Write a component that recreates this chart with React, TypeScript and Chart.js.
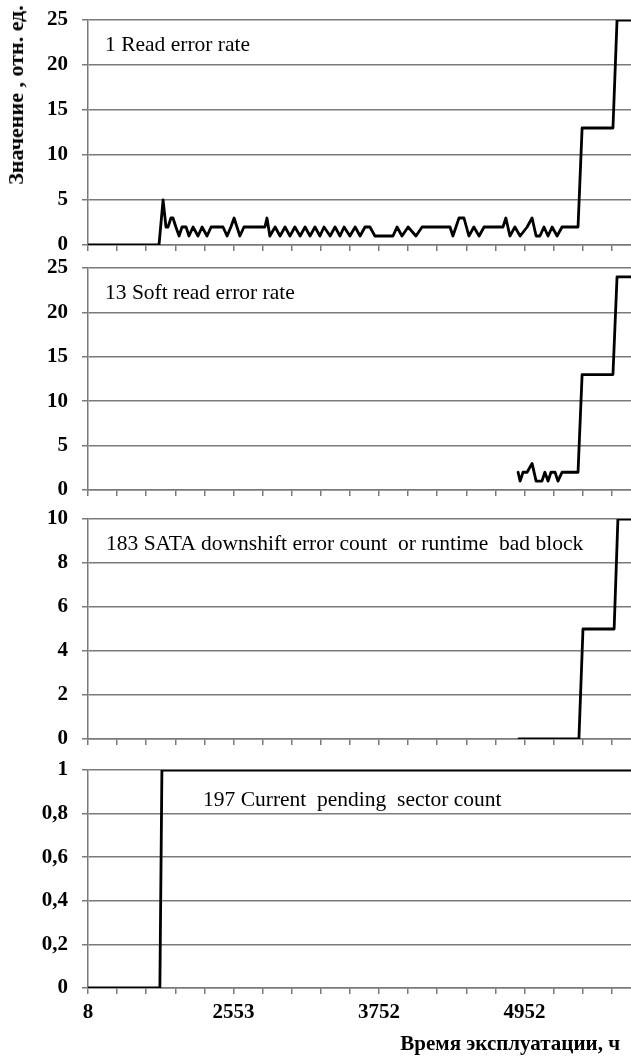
import React, { useEffect, useRef } from "react";
import { Chart, registerables } from "chart.js";

Chart.register(...registerables);

// x positions are expressed in category-tick units (one tick = one axis division)
const xTickLabels = ["8", "", "", "", "", "2553", "", "", "", "", "3752", "", "", "", "", "4952", "", "", ""];
const X_MAX = 18.66;

// 1 Read error rate
const readErrX = [0, 2.44, 2.58, 2.68, 2.75, 2.85, 2.92, 3.02, 3.13, 3.23, 3.37, 3.47, 3.61, 3.78, 3.92, 4.09, 4.23, 4.64, 4.78, 4.91, 5.02, 5.12, 5.22, 5.36, 6.08, 6.15, 6.25, 6.43, 6.6, 6.77, 6.94, 7.11, 7.29, 7.46, 7.63, 7.8, 7.97, 8.11, 8.32, 8.49, 8.66, 8.8, 9.0, 9.18, 9.35, 9.52, 9.69, 9.86, 10.48, 10.62, 10.79, 11.0, 11.27, 11.48, 12.44, 12.54, 12.75, 12.92, 13.09, 13.26, 13.44, 13.61, 14.26, 14.36, 14.5, 14.67, 14.85, 15.09, 15.26, 15.4, 15.53, 15.67, 15.81, 15.95, 16.12, 16.29, 16.84, 16.98, 18.04, 18.18, 18.66];
const readErrY = [0, 0, 5, 2, 2, 3, 3, 2, 1, 2, 2, 1, 2, 1, 2, 1, 2, 2, 1, 2, 3, 2, 1, 2, 2, 3, 1, 2, 1, 2, 1, 2, 1, 2, 1, 2, 1, 2, 1, 2, 1, 2, 1, 2, 1, 2, 2, 1, 1, 2, 1, 2, 1, 2, 2, 1, 3, 3, 1, 2, 1, 2, 2, 3, 1, 2, 1, 2, 3, 1, 1, 2, 1, 2, 1, 2, 2, 13, 13, 25, 25];

// 13 Soft read error rate
const softX = [14.78, 14.85, 14.95, 15.09, 15.26, 15.4, 15.6, 15.7, 15.81, 15.91, 16.05, 16.15, 16.29, 16.84, 16.98, 18.04, 18.18, 18.66];
const softY = [2, 1, 2, 2, 3, 1, 1, 2, 1, 2, 2, 1, 2, 2, 13, 13, 24, 24];

// 183 SATA downshift error count
const sataX = [14.81, 16.87, 17.01, 18.08, 18.21, 18.66];
const sataY = [0, 0, 5, 5, 10, 10];

// 197 Current pending sector count
const pendX = [0, 2.47, 2.54, 18.66];
const pendY = [0, 0, 1, 1];

const panelTitles = [
  "1 Read error rate",
  "13 Soft read error rate",
  "183 SATA downshift error count  or runtime  bad block",
  "197 Current  pending  sector count",
];

const yTitle = "Значение , отн. ед.";
const xTitle = "Время эксплуатации, ч";

const FONT = "'Liberation Serif', 'Times New Roman', serif";
const GRID = "#7a7a7a";

const panelLabelPlugin = {
  id: "panelLabel",
  afterDraw(chart: any, _args: any, opts: any) {
    const { ctx, chartArea } = chart;
    ctx.save();
    ctx.font = `21.5px ${FONT}`;
    ctx.fillStyle = "#000";
    ctx.textAlign = "left";
    ctx.textBaseline = "middle";
    ctx.fillText(opts.text, chartArea.left + opts.dx, chartArea.top + opts.dy);
    ctx.restore();
  },
};

type PanelProps = {
  top: number;
  height: number;
  padTop: number;
  xAxisHeight: number;
  yMax: number;
  yStep: number;
  xs: number[];
  ys: number[];
  title: string;
  dx: number;
  dy: number;
  showXLabels: boolean;
  decimal: boolean;
};

function Panel(p: PanelProps) {
  const ref = useRef<HTMLCanvasElement | null>(null);
  useEffect(() => {
    if (!ref.current) return;
    const chart = new Chart(ref.current, {
      type: "line",
      data: {
        datasets: [
          {
            data: p.xs.map((x, i) => ({ x, y: p.ys[i] })),
            borderColor: "#000",
            borderWidth: 2.8,
            borderJoinStyle: "round",
            borderCapStyle: "round",
            pointRadius: 0,
            tension: 0,
            fill: false,
          },
        ],
      },
      options: {
        animation: false,
        responsive: false,
        devicePixelRatio: 1,
        layout: { padding: { top: p.padTop, left: 0, right: 0, bottom: 0 } },
        plugins: {
          legend: { display: false },
          tooltip: { enabled: false },
          panelLabel: { text: p.title, dx: p.dx, dy: p.dy },
        } as any,
        scales: {
          x: {
            type: "linear",
            min: 0,
            max: X_MAX,
            afterBuildTicks: (s: any) => {
              s.ticks = xTickLabels.map((_, i) => ({ value: i }));
            },
            afterFit: (s: any) => {
              s.height = p.xAxisHeight;
              s.paddingLeft = 0;
              s.paddingRight = 0;
              s.paddingTop = 0;
              s.paddingBottom = 0;
            },
            ticks: {
              autoSkip: false,
              maxRotation: 0,
              padding: 6,
              color: "#000",
              font: { family: FONT, size: 21, weight: "bold" },
              callback: (v: any) => (p.showXLabels ? xTickLabels[Math.round(Number(v))] ?? "" : ""),
            },
            grid: {
              drawOnChartArea: false,
              drawTicks: true,
              tickLength: 6,
              color: GRID,
              lineWidth: 1.5,
            },
            border: { color: GRID, width: 1.5 },
          },
          y: {
            min: 0,
            max: p.yMax,
            afterFit: (s: any) => {
              s.width = 88;
              s.paddingTop = 0;
              s.paddingBottom = 0;
              s.paddingLeft = 0;
              s.paddingRight = 0;
            },
            ticks: {
              stepSize: p.yStep,
              padding: 14,
              color: "#000",
              font: { family: FONT, size: 21, weight: "bold" },
              callback: (v: any) => {
                const n = Number(v);
                if (!p.decimal) return String(Math.round(n));
                if (Math.abs(n - Math.round(n)) < 1e-9) return String(Math.round(n));
                return n.toFixed(1).replace(".", ",");
              },
            },
            grid: { color: GRID, lineWidth: 1.5, tickLength: 6 },
            border: { color: GRID, width: 1.5 },
          },
        },
      },
      plugins: [panelLabelPlugin as any],
    });
    return () => chart.destroy();
  }, []);
  return (
    <canvas
      ref={ref}
      width={631}
      height={p.height}
      style={{ position: "absolute", left: 0, top: p.top, width: 631, height: p.height, display: "block" }}
    />
  );
}

export default function App() {
  return (
    <div
      style={{
        position: "absolute",
        left: 0,
        top: 0,
        width: 631,
        height: 1056,
        overflow: "hidden",
        background: "#fff",
      }}
    >
      <Panel top={0} height={256} padTop={20} xAxisHeight={11} yMax={25} yStep={5} xs={readErrX} ys={readErrY} title={panelTitles[0]} dx={17} dy={25} showXLabels={false} decimal={false} />
      <Panel top={256} height={245} padTop={12} xAxisHeight={11} yMax={25} yStep={5} xs={softX} ys={softY} title={panelTitles[1]} dx={17} dy={25} showXLabels={false} decimal={false} />
      <Panel top={501} height={249} padTop={18} xAxisHeight={11} yMax={10} yStep={2} xs={sataX} ys={sataY} title={panelTitles[2]} dx={18} dy={25} showXLabels={false} decimal={false} />
      <Panel top={750} height={306} padTop={20} xAxisHeight={68} yMax={1} yStep={0.2} xs={pendX} ys={pendY} title={panelTitles[3]} dx={115} dy={30} showXLabels={true} decimal={true} />
      <div
        style={{
          position: "absolute",
          left: 16,
          top: 95,
          transform: "translate(-50%, -50%) rotate(-90deg)",
          whiteSpace: "nowrap",
          font: `bold 22px ${FONT}`,
          color: "#000",
          lineHeight: 1,
        }}
      >
        {yTitle}
      </div>
      <div
        style={{
          position: "absolute",
          right: 11,
          top: 1033,
          whiteSpace: "nowrap",
          font: `bold 21px ${FONT}`,
          color: "#000",
          lineHeight: 1,
        }}
      >
        {xTitle}
      </div>
    </div>
  );
}
